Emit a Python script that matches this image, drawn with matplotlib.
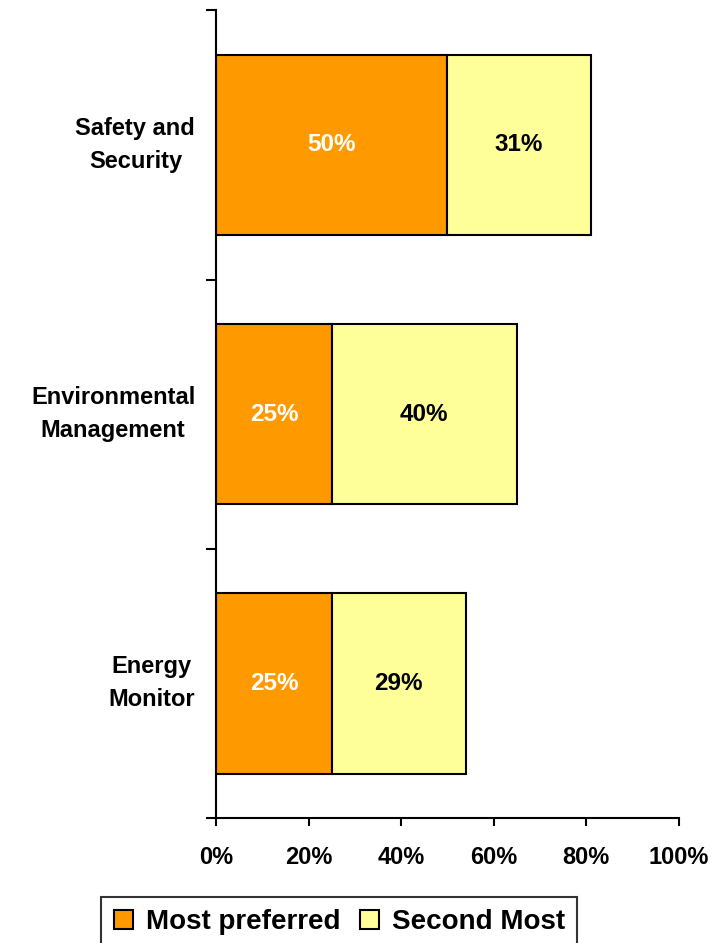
import numpy as np
import matplotlib
matplotlib.use('Agg')
import matplotlib.pyplot as plt
from matplotlib.ticker import FuncFormatter

plt.rcParams['font.family'] = ['Liberation Sans', 'DejaVu Sans']
plt.rcParams['font.weight'] = 'bold'

categories = ['Energy\nMonitor', 'Environmental\nManagement', 'Safety and\nSecurity']
most_preferred = [25, 25, 50]
second_most = [29, 40, 31]
series_names = ['Most preferred', 'Second Most']
colors = ['#FF9900', '#FFFF99']

fig = plt.figure(figsize=(7.13, 9.43), dpi=100)
ax = fig.add_axes([0.303, 0.1326, 0.649, 0.8564])

y = np.arange(len(categories))
h = 0.67
b1 = ax.barh(y, most_preferred, height=h, color=colors[0], edgecolor='black', linewidth=1.5, label=series_names[0])
b2 = ax.barh(y, second_most, left=most_preferred, height=h, color=colors[1], edgecolor='black', linewidth=1.5, label=series_names[1])

for i in range(len(categories)):
    ax.text(most_preferred[i] / 2, y[i], f'{most_preferred[i]}%', ha='center', va='center',
            color='white', fontsize=17.5, fontweight='bold')
    ax.text(most_preferred[i] + second_most[i] / 2, y[i], f'{second_most[i]}%', ha='center', va='center',
            color='black', fontsize=17.5, fontweight='bold')

ax.set_xlim(0, 100)
ax.set_ylim(-0.5, len(categories) - 0.5)
ax.set_xticks(np.arange(0, 101, 20))
ax.xaxis.set_major_formatter(FuncFormatter(lambda v, p: f'{v:.0f}%'))
ax.tick_params(axis='x', direction='out', length=6, width=1.5, labelsize=17, pad=14)

# boundary ticks on the category axis, labels sit on minor ticks at bar centres
ax.set_yticks(np.arange(-0.5, len(categories), 1.0))
ax.set_yticklabels([])
ax.tick_params(axis='y', which='major', direction='out', length=7, width=1.5)
ax.set_yticks(y, minor=True)
ax.set_yticklabels(categories, minor=True, fontsize=17, fontweight='bold',
                   multialignment='center', linespacing=1.55)
for t in ax.get_yticklabels(minor=True):
    t.set_va('center')
ax.tick_params(axis='y', which='minor', length=0, pad=15)

for s in ['top', 'right']:
    ax.spines[s].set_visible(False)
for s in ['left', 'bottom']:
    ax.spines[s].set_linewidth(1.5)

leg = fig.legend(handles=[b1, b2], loc='upper center', bbox_to_anchor=(0.476, 0.049), ncol=2,
                 fontsize=20, frameon=True, fancybox=False, edgecolor='black',
                 handlelength=0.7, handleheight=0.7, handletextpad=0.45, columnspacing=0.7,
                 borderpad=0.45, borderaxespad=0)
leg.get_frame().set_linewidth(1.5)

fig.savefig('out.png', dpi=100)
